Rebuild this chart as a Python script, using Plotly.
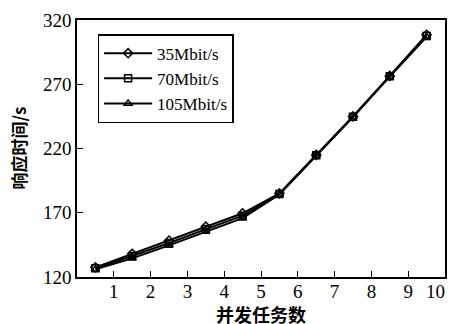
import plotly.graph_objects as go

x_tasks = [0.5, 1.5, 2.5, 3.5, 4.5, 5.5, 6.5, 7.5, 8.5, 9.5]
y_35 = [127.5, 138.0, 148.3, 159.2, 169.6, 185.0, 215.0, 245.0, 276.5, 308.5]
y_70 = [126.8, 136.3, 146.5, 157.3, 167.7, 184.6, 214.8, 244.7, 276.3, 307.5]
y_105 = [126.0, 134.5, 144.6, 155.4, 165.8, 184.3, 214.6, 244.5, 276.0, 307.0]
series_names = ["35Mbit/s", "70Mbit/s", "105Mbit/s"]
symbols = ["diamond-open", "square-open", "triangle-up-open"]
x_ticks = [1, 2, 3, 4, 5, 6, 7, 8, 9, 10]
x_tick_labels = ["1", "2", "3", "4", "5", "6", "7", "8", "9", "10"]
y_ticks = [120, 170, 220, 270, 320]
x_title = "并发任务数"
y_title = "响应时间/s"

fig = go.Figure()
for name, ys, sym in zip(series_names, [y_35, y_70, y_105], symbols):
    fig.add_trace(go.Scatter(
        x=x_tasks, y=ys, name=name, mode="lines+markers",
        line=dict(color="black", width=2),
        marker=dict(symbol=sym, size=7, color="black", line=dict(color="black", width=1.5)),
    ))

serif = "Liberation Serif, Times New Roman, serif"
cjk = "Noto Sans CJK SC"

# keep the last label inside the page, as in the reference
tick_text = x_tick_labels[:-1] + [x_tick_labels[-1] + "\u00a0" * 4]

fig.update_layout(
    width=449, height=324,
    margin=dict(l=77, r=4, t=20, b=47),
    paper_bgcolor="white", plot_bgcolor="white",
    font=dict(family=serif, size=18, color="black"),
    showlegend=True,
    legend=dict(
        x=0.056, y=0.945, xanchor="left", yanchor="top",
        bgcolor="white", bordercolor="black", borderwidth=1.5,
        font=dict(family=serif, size=17, color="black"),
        itemwidth=48, tracegroupgap=0,
    ),
    xaxis=dict(
        range=[0, 10], tickvals=x_ticks, ticktext=tick_text,
        ticks="inside", ticklen=6, tickwidth=1.2, tickcolor="black",
        showline=True, linecolor="black", linewidth=1.5, mirror=True,
        showgrid=False, zeroline=False, automargin=False,
        ticklabeloverflow="allow", ticklabelstandoff=-4,
        tickfont=dict(family=serif, size=19),
    ),
    yaxis=dict(
        range=[120, 320], tickvals=y_ticks, ticktext=[str(v) for v in y_ticks],
        ticks="inside", ticklen=6, tickwidth=1.2, tickcolor="black",
        showline=True, linecolor="black", linewidth=1.5, mirror=True,
        showgrid=False, zeroline=False, automargin=False,
        ticklabeloverflow="allow",
        tickfont=dict(family=serif, size=19),
    ),
    annotations=[
        dict(text="<b>" + x_title + "</b>", xref="paper", yref="paper",
             x=0.5, y=-0.145, xanchor="center", yanchor="middle",
             showarrow=False, font=dict(family=cjk, size=18, color="black")),
        dict(text="<b>" + y_title + "</b>", xref="paper", yref="paper",
             x=-0.16, y=0.5, xanchor="center", yanchor="middle", textangle=-90,
             showarrow=False, font=dict(family=cjk, size=17, color="black")),
    ],
)

fig.write_html(
    "out.html",
    config={"displayModeBar": False},
    post_script="document.body.style.margin='0';document.body.style.overflow='hidden';",
)
